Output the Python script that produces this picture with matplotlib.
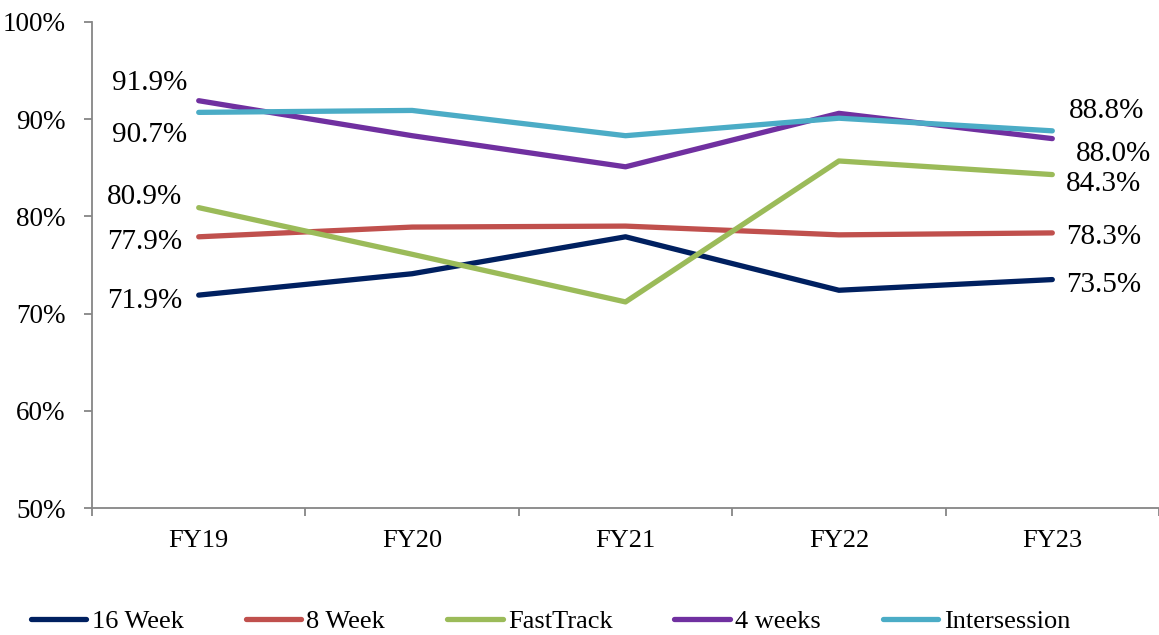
import matplotlib.pyplot as plt
import numpy as np

years = ['FY19', 'FY20', 'FY21', 'FY22', 'FY23']
week16 = [71.9, 74.1, 77.9, 72.4, 73.5]
week8 = [77.9, 78.9, 79.0, 78.1, 78.3]
fasttrack = [80.9, 76.1, 71.2, 85.7, 84.3]
weeks4 = [91.9, 88.3, 85.1, 90.6, 88.0]
intersession = [90.7, 90.9, 88.3, 90.1, 88.8]

series = [
    ('16 Week', week16, '#002060'),
    ('8 Week', week8, '#C0504D'),
    ('FastTrack', fasttrack, '#9BBB59'),
    ('4 weeks', weeks4, '#7030A0'),
    ('Intersession', intersession, '#4BACC6'),
]

# label offsets (points) for first / last value of each series
first_off = {'16 Week': (-12, -4), '8 Week': (-12, -4), 'FastTrack': (-12, 8),
             '4 weeks': (-8, 13), 'Intersession': (-8, -16)}
last_off = {'16 Week': (10, -4), '8 Week': (10, -3), 'FastTrack': (10, -7),
            '4 weeks': (17, -11), 'Intersession': (12, 14)}

plt.rcParams['font.family'] = ['Liberation Serif', 'DejaVu Serif']

fig = plt.figure(figsize=(11.59, 6.35), dpi=100)
ax = fig.add_axes([0.0794, 0.2, 0.9206, 0.7654])

x = np.arange(len(years))
for name, vals, col in series:
    ax.plot(x, vals, color=col, lw=3.8, label=name, solid_capstyle='round')
    ax.annotate(f'{vals[0]:.1f}%', (x[0], vals[0]), xytext=first_off[name],
                textcoords='offset points', ha='right', va='center', fontsize=21)
    ax.annotate(f'{vals[-1]:.1f}%', (x[-1], vals[-1]), xytext=last_off[name],
                textcoords='offset points', ha='left', va='center', fontsize=21)

ax.set_xlim(-0.5, 4.5)
ax.set_ylim(50, 100)
ax.set_yticks(range(50, 101, 10))
ax.set_yticklabels([f'{v}%' for v in range(50, 101, 10)], fontsize=19.5)
ax.set_xticks(x)
ax.set_xticklabels(years, fontsize=19)
ax.set_xticks(np.arange(-0.5, 4.6, 1), minor=True)
ax.tick_params(axis='x', which='major', length=0, pad=16)
ax.tick_params(axis='x', which='minor', length=6, color='#868686', width=1.3)
ax.tick_params(axis='y', length=6, color='#868686', width=1.3, pad=13)
for s in ['top', 'right']:
    ax.spines[s].set_visible(False)
for s in ['left', 'bottom']:
    ax.spines[s].set_color('#868686')
    ax.spines[s].set_linewidth(1.3)

fig.legend(loc='center', bbox_to_anchor=(0.475, 0.022), ncol=5, frameon=False,
           fontsize=19, handlelength=2.1, handletextpad=0.2, columnspacing=2.35)

fig.savefig('out.png', dpi=100)
